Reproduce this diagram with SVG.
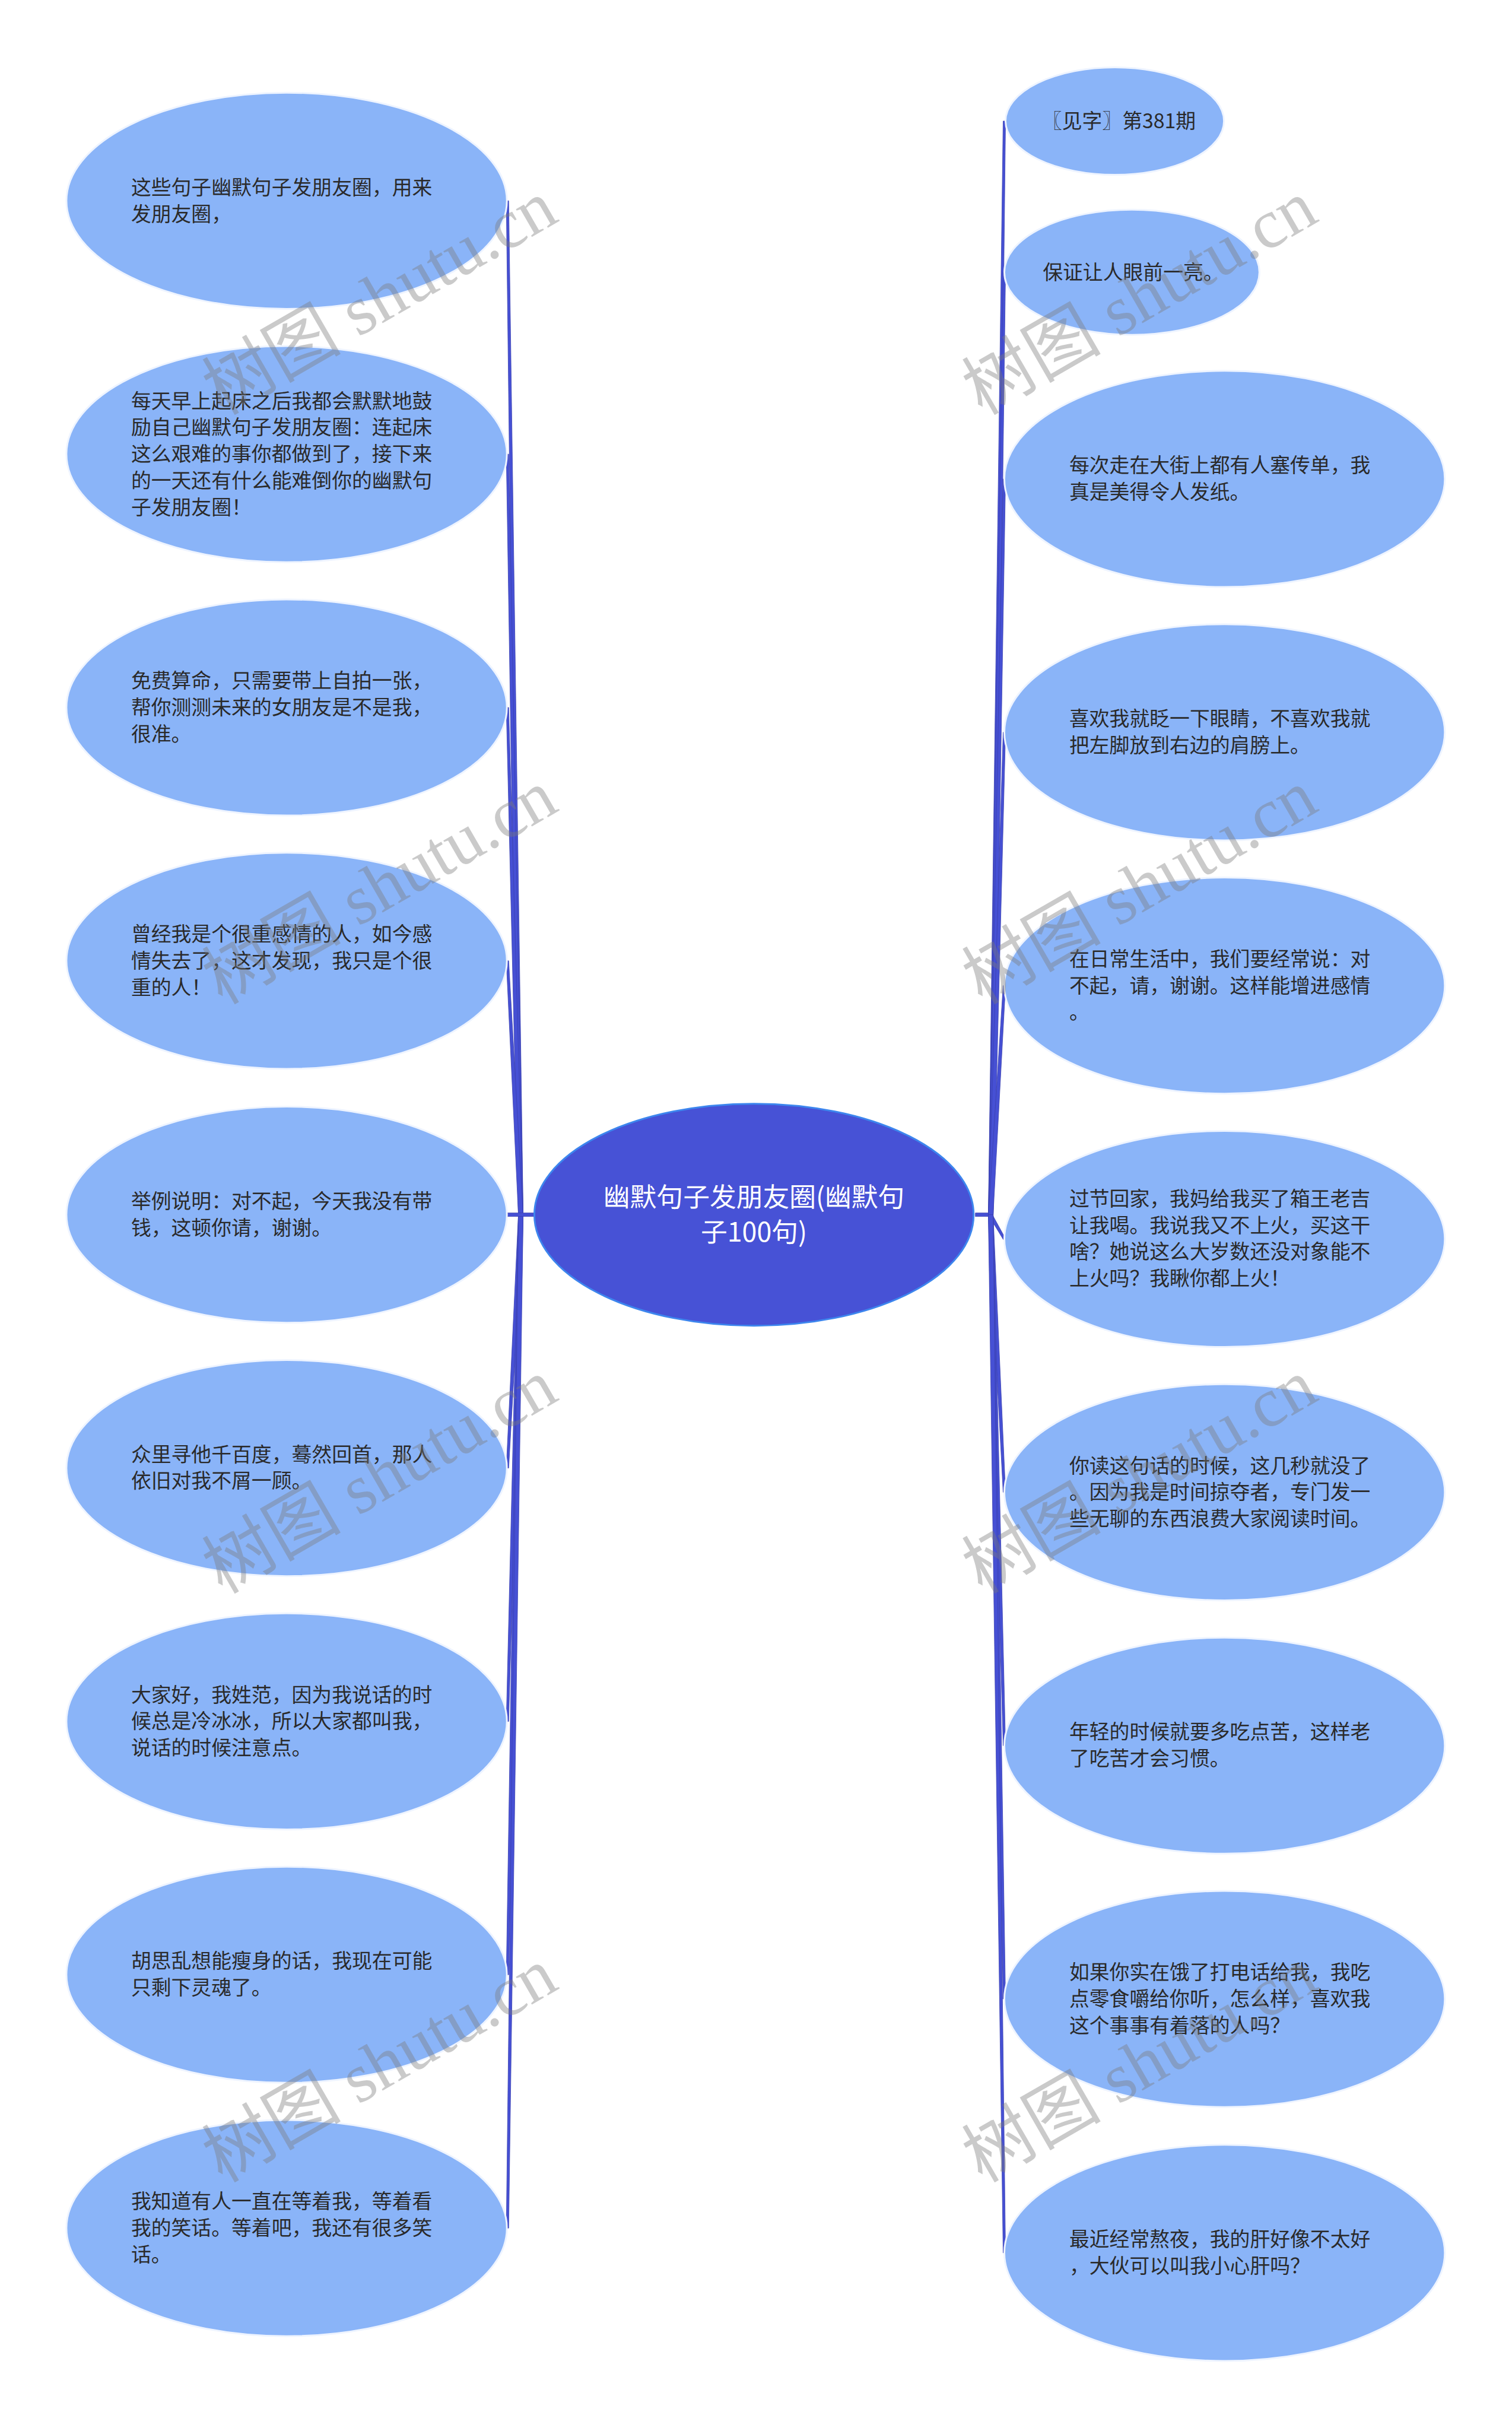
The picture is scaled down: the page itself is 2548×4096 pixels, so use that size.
<svg xmlns="http://www.w3.org/2000/svg" width="2548" height="4096" viewBox="0 0 2548 4096">
<style>
.node ellipse{fill:#8ab4f8;stroke:#eef4ff;stroke-width:3}
.node text{font-family:"Noto Sans CJK SC","Noto Sans",sans-serif;font-size:34px;fill:#2a2a2a}
.center ellipse{fill:#4752d6;stroke:#3d86ee;stroke-width:3}
.center text{font-family:"Noto Sans CJK SC","Noto Sans",sans-serif;font-size:45px;fill:#ffffff;text-anchor:middle}
.conn polygon,.conn rect{fill:#4650d4;stroke:#3a40b0;stroke-width:0.8}
.wm text{font-family:"Liberation Serif","Noto Sans CJK SC",serif;font-size:118px;fill:#7a7a7a;fill-opacity:0.4;text-anchor:middle}
</style>
<rect width="2548" height="4096" fill="#ffffff"/>
<g transform="scale(0.995)">
<g id="connectors" class="conn">
<polygon points="878,2057 886,2057 861.5,340 857.5,340"/>
<polygon points="878,2057 886,2057 861.5,769 857.5,769"/>
<polygon points="878,2057 886,2057 861.5,1198 857.5,1198"/>
<polygon points="878,2057 886,2057 861.5,1627 857.5,1627"/>
<polygon points="878,2057 886,2057 861.5,2486 857.5,2486"/>
<polygon points="878,2057 886,2057 861.5,2915 857.5,2915"/>
<polygon points="878,2057 886,2057 861.5,3344 857.5,3344"/>
<polygon points="878,2057 886,2057 861.5,3773 857.5,3773"/>
<rect x="857" y="2054" width="50" height="6"/>
<rect x="1652" y="2054" width="27" height="6"/>
<polygon points="1674,2057 1682,2057 1703,205 1699,205"/>
<polygon points="1674,2057 1682,2057 1703,461 1699,461"/>
<polygon points="1674,2057 1682,2057 1703,811 1699,811"/>
<polygon points="1674,2057 1682,2057 1703,1240 1699,1240"/>
<polygon points="1674,2057 1682,2057 1703,1669 1699,1669"/>
<polygon points="1676.4,2061.5 1681.6,2058.5 1702.7,2097 1699.3,2099"/>
<polygon points="1674,2057 1682,2057 1703,2527 1699,2527"/>
<polygon points="1674,2057 1682,2057 1703,2956 1699,2956"/>
<polygon points="1674,2057 1682,2057 1703,3385 1699,3385"/>
<polygon points="1674,2057 1682,2057 1703,3815 1699,3815"/>
</g>
<g id="center" class="center">
<ellipse cx="1277" cy="2057" rx="372" ry="188"/>
<text x="1277" y="2043">幽默句子发朋友圈(幽默句</text>
<text x="1277" y="2103">子100句)</text>
</g>
<g id="L1" class="node"><ellipse cx="485.5" cy="340" rx="373" ry="183"/>
<text x="222" y="330"><tspan x="222">这些句子幽默句子发朋友圈，用来</tspan><tspan x="222" dy="45">发朋友圈，</tspan></text></g>
<g id="L2" class="node"><ellipse cx="485.5" cy="769" rx="373" ry="183"/>
<text x="222" y="691"><tspan x="222">每天早上起床之后我都会默默地鼓</tspan><tspan x="222" dy="45">励自己幽默句子发朋友圈：连起床</tspan><tspan x="222" dy="45">这么艰难的事你都做到了，接下来</tspan><tspan x="222" dy="45">的一天还有什么能难倒你的幽默句</tspan><tspan x="222" dy="45">子发朋友圈！</tspan></text></g>
<g id="L3" class="node"><ellipse cx="485.5" cy="1198" rx="373" ry="183"/>
<text x="222" y="1165"><tspan x="222">免费算命，只需要带上自拍一张，</tspan><tspan x="222" dy="45">帮你测测未来的女朋友是不是我，</tspan><tspan x="222" dy="45">很准。</tspan></text></g>
<g id="L4" class="node"><ellipse cx="485.5" cy="1627" rx="373" ry="183"/>
<text x="222" y="1594"><tspan x="222">曾经我是个很重感情的人，如今感</tspan><tspan x="222" dy="45">情失去了，这才发现，我只是个很</tspan><tspan x="222" dy="45">重的人！</tspan></text></g>
<g id="L5" class="node"><ellipse cx="485.5" cy="2057" rx="373" ry="183"/>
<text x="222" y="2046"><tspan x="222">举例说明：对不起，今天我没有带</tspan><tspan x="222" dy="45">钱，这顿你请，谢谢。</tspan></text></g>
<g id="L6" class="node"><ellipse cx="485.5" cy="2486" rx="373" ry="183"/>
<text x="222" y="2475"><tspan x="222">众里寻他千百度，蓦然回首，那人</tspan><tspan x="222" dy="45">依旧对我不屑一顾。</tspan></text></g>
<g id="L7" class="node"><ellipse cx="485.5" cy="2915" rx="373" ry="183"/>
<text x="222" y="2882"><tspan x="222">大家好，我姓范，因为我说话的时</tspan><tspan x="222" dy="45">候总是冷冰冰，所以大家都叫我，</tspan><tspan x="222" dy="45">说话的时候注意点。</tspan></text></g>
<g id="L8" class="node"><ellipse cx="485.5" cy="3344" rx="373" ry="183"/>
<text x="222" y="3333"><tspan x="222">胡思乱想能瘦身的话，我现在可能</tspan><tspan x="222" dy="45">只剩下灵魂了。</tspan></text></g>
<g id="L9" class="node"><ellipse cx="485.5" cy="3773" rx="373" ry="183"/>
<text x="222" y="3740"><tspan x="222">我知道有人一直在等着我，等着看</tspan><tspan x="222" dy="45">我的笑话。等着吧，我还有很多笑</tspan><tspan x="222" dy="45">话。</tspan></text></g>
<g id="R1" class="node"><ellipse cx="1888" cy="205" rx="185" ry="91"/>
<text x="1895" y="217" text-anchor="middle">〖见字〗第381期</text></g>
<g id="R2" class="node"><ellipse cx="1917" cy="461" rx="216" ry="106"/>
<text x="1919" y="473" text-anchor="middle">保证让人眼前一亮。</text></g>
<g id="R3" class="node"><ellipse cx="2074" cy="811" rx="373" ry="183"/>
<text x="1811" y="800"><tspan x="1811">每次走在大街上都有人塞传单，我</tspan><tspan x="1811" dy="45">真是美得令人发纸。</tspan></text></g>
<g id="R4" class="node"><ellipse cx="2074" cy="1240" rx="373" ry="183"/>
<text x="1811" y="1229"><tspan x="1811">喜欢我就眨一下眼睛，不喜欢我就</tspan><tspan x="1811" dy="45">把左脚放到右边的肩膀上。</tspan></text></g>
<g id="R5" class="node"><ellipse cx="2074" cy="1669" rx="373" ry="183"/>
<text x="1811" y="1636"><tspan x="1811">在日常生活中，我们要经常说：对</tspan><tspan x="1811" dy="45">不起，请，谢谢。这样能增进感情</tspan><tspan x="1811" dy="45">。</tspan></text></g>
<g id="R6" class="node"><ellipse cx="2074" cy="2098" rx="373" ry="183"/>
<text x="1811" y="2042"><tspan x="1811">过节回家，我妈给我买了箱王老吉</tspan><tspan x="1811" dy="45">让我喝。我说我又不上火，买这干</tspan><tspan x="1811" dy="45">啥？她说这么大岁数还没对象能不</tspan><tspan x="1811" dy="45">上火吗？我瞅你都上火！</tspan></text></g>
<g id="R7" class="node"><ellipse cx="2074" cy="2527" rx="373" ry="183"/>
<text x="1811" y="2494"><tspan x="1811">你读这句话的时候，这几秒就没了</tspan><tspan x="1811" dy="45">。因为我是时间掠夺者，专门发一</tspan><tspan x="1811" dy="45">些无聊的东西浪费大家阅读时间。</tspan></text></g>
<g id="R8" class="node"><ellipse cx="2074" cy="2956" rx="373" ry="183"/>
<text x="1811" y="2945"><tspan x="1811">年轻的时候就要多吃点苦，这样老</tspan><tspan x="1811" dy="45">了吃苦才会习惯。</tspan></text></g>
<g id="R9" class="node"><ellipse cx="2074" cy="3385" rx="373" ry="183"/>
<text x="1811" y="3352"><tspan x="1811">如果你实在饿了打电话给我，我吃</tspan><tspan x="1811" dy="45">点零食嚼给你听，怎么样，喜欢我</tspan><tspan x="1811" dy="45">这个事事有着落的人吗？</tspan></text></g>
<g id="R10" class="node"><ellipse cx="2074" cy="3815" rx="373" ry="183"/>
<text x="1811" y="3804"><tspan x="1811">最近经常熬夜，我的肝好像不太好</tspan><tspan x="1811" dy="45">，大伙可以叫我小心肝吗？</tspan></text></g>
<g id="watermarks" class="wm">
<text transform="translate(643,504) rotate(-30)" y="40">树图 shutu.cn</text>
<text transform="translate(1930,504) rotate(-30)" y="40">树图 shutu.cn</text>
<text transform="translate(643,1502) rotate(-30)" y="40">树图 shutu.cn</text>
<text transform="translate(1930,1502) rotate(-30)" y="40">树图 shutu.cn</text>
<text transform="translate(643,2500) rotate(-30)" y="40">树图 shutu.cn</text>
<text transform="translate(1930,2500) rotate(-30)" y="40">树图 shutu.cn</text>
<text transform="translate(643,3497) rotate(-30)" y="40">树图 shutu.cn</text>
<text transform="translate(1930,3497) rotate(-30)" y="40">树图 shutu.cn</text>
</g>
</g>
</svg>
